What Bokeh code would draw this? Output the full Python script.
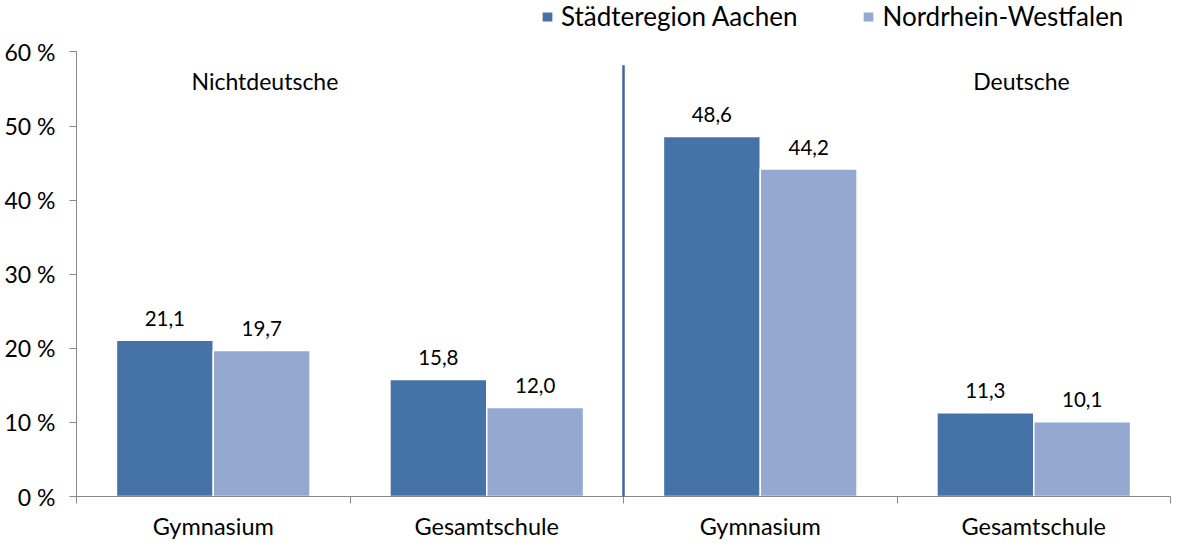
from bokeh.plotting import figure
from bokeh.models import Range1d, FixedTicker, ColumnDataSource, Legend, LegendItem, Arrow
from bokeh.core.properties import value
from bokeh.embed import file_html
from bokeh.resources import INLINE

# ---- data ----
categories = ["Gymnasium", "Gesamtschule", "Gymnasium", "Gesamtschule"]
groups = ["Nichtdeutsche", "Deutsche"]
series = ["Städteregion Aachen", "Nordrhein-Westfalen"]
aachen = [21.1, 15.8, 48.6, 11.3]
nrw = [19.7, 12.0, 44.2, 10.1]
y_ticks = [0, 10, 20, 30, 40, 50, 60]

# ---- style ----
FONT = "Lato"
DARK = "#4573A7"
LIGHT = "#95A9D0"
SEP = "#41659C"
AXIS = "#898989"
BAR_W = 0.354

def fmt(v):
    return f"{v:.1f}".replace(".", ",")

centers = [i + 0.5 for i in range(len(categories))]
src_a = ColumnDataSource(dict(x=[c - BAR_W / 2 for c in centers], top=aachen,
                              lab=[fmt(v) for v in aachen]))
src_n = ColumnDataSource(dict(x=[c + BAR_W / 2 for c in centers], top=nrw,
                              lab=[fmt(v) for v in nrw]))

p = figure(width=1171, height=543, output_backend="svg", toolbar_location=None,
           x_range=Range1d(0, len(categories)), y_range=Range1d(0, 66.95),
           min_border_left=76, min_border_right=1, min_border_top=0, min_border_bottom=47)
p.outline_line_color = None
p.grid.grid_line_color = None
p.background_fill_color = "white"
p.border_fill_color = "white"

ra = p.vbar(x="x", top="top", width=BAR_W, source=src_a, fill_color=DARK,
            line_color="white", line_width=1.5)
rn = p.vbar(x="x", top="top", width=BAR_W, source=src_n, fill_color=LIGHT,
            line_color="white", line_width=1.5)

for src in (src_a, src_n):
    p.text(x="x", y="top", text="lab", source=src, text_align="center",
           text_baseline="alphabetic", y_offset=-22, text_font=value(FONT),
           text_font_size="20.5px", text_color="black")

# group titles
p.text(x=[0.689, 3.455], y=[56.07, 56.07], text=groups, text_align="center",
       text_baseline="middle", text_font=value(FONT), text_font_size="23px",
       text_color="black")

# separator line between the two groups
p.add_layout(Arrow(end=None, x_start=2, y_start=58.2, x_end=2, y_end=-5.6,
                   line_color=SEP, line_width=2.5))

# axes
xa = p.xaxis[0]
xa.ticker = FixedTicker(ticks=centers, minor_ticks=list(range(len(categories) + 1)))
xa.major_label_overrides = {c: lab for c, lab in zip(centers, categories)}
xa.major_tick_line_color = None
xa.major_tick_out = 7
xa.major_tick_in = 0
xa.minor_tick_out = 7
xa.minor_tick_in = 0
xa.minor_tick_line_color = AXIS
xa.axis_line_color = AXIS
xa.major_label_standoff = 8
xa.major_label_text_font = FONT
xa.major_label_text_font_size = "23.5px"
xa.major_label_text_color = "black"

ya = p.yaxis[0]
ya.ticker = FixedTicker(ticks=y_ticks, minor_ticks=[])
ya.major_label_overrides = {t: f"{t} %" for t in y_ticks}
ya.bounds = (0, 60)
ya.axis_line_color = AXIS
ya.major_tick_line_color = AXIS
ya.major_tick_out = 7
ya.major_tick_in = 0
ya.minor_tick_line_color = None
ya.major_label_standoff = 14
ya.major_label_text_font = FONT
ya.major_label_text_font_size = "23px"
ya.major_label_text_color = "black"

legend = Legend(items=[LegendItem(label=series[0], renderers=[ra]),
                       LegendItem(label=series[1], renderers=[rn])],
                orientation="horizontal", location=(464, 464),
                glyph_width=14, glyph_height=13, label_standoff=7, spacing=64,
                padding=0, margin=0, border_line_color=None,
                background_fill_alpha=0, label_text_font=FONT,
                label_text_font_size="26px", label_text_color="black")
p.add_layout(legend)

open("out.html", "w").write(file_html(p, INLINE))
